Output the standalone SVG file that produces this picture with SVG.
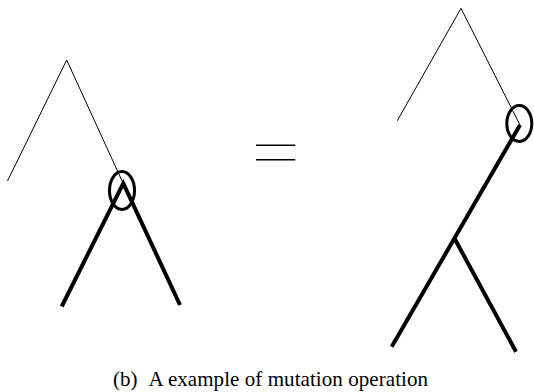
<svg xmlns="http://www.w3.org/2000/svg" width="534" height="392" viewBox="0 0 534 392">
<style>
.thin{stroke:#000;stroke-width:1;fill:none}
.thick{stroke:#000;stroke-width:4;fill:none}
.ring{stroke:#000;stroke-width:3;fill:none}
.eq{stroke:#000;stroke-width:1.5}
text{font-family:"Liberation Serif",serif;font-size:21px;fill:#000}
</style>
<rect width="534" height="392" fill="#fff"/>
<g id="left-tree">
<polyline class="thin" points="7.5,181 66.7,60 123,183"/>
<polyline class="thick" points="61.7,306.5 123.3,183.3 180,305"/>
<ellipse class="ring" cx="122" cy="190.5" rx="12.5" ry="19"/>
</g>
<g id="equals">
<line class="eq" x1="256" y1="145.3" x2="295.3" y2="145.3"/>
<line class="eq" x1="256" y1="159.7" x2="295.3" y2="159.7"/>
</g>
<g id="right-tree">
<polyline class="thin" points="397.3,120.7 461,8.3 520,125"/>
<line class="thick" x1="520" y1="125" x2="391.7" y2="346.7"/>
<line class="thick" x1="455" y1="239.3" x2="516" y2="351.7"/>
<ellipse class="ring" cx="519.3" cy="123.5" rx="12.5" ry="18"/>
</g>
<text x="113" y="386"><tspan>(b)</tspan><tspan x="148.5" textLength="279.5">A example of mutation operation</tspan></text>
</svg>
